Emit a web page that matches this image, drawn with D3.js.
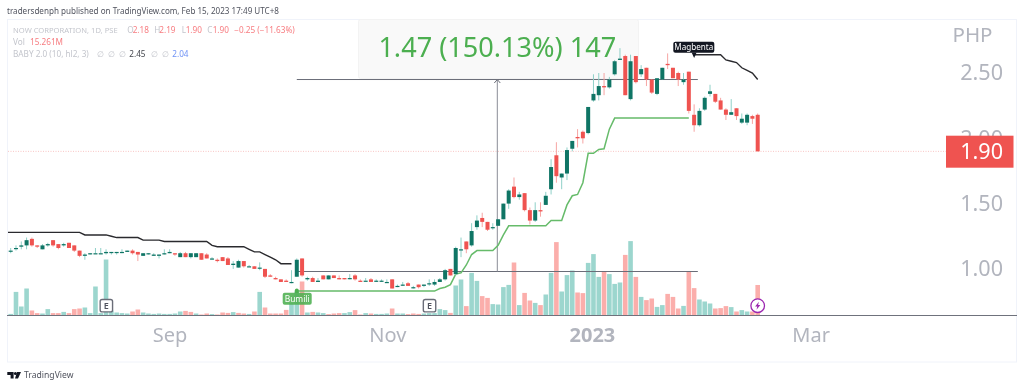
<!DOCTYPE html>
<html>
<head>
<meta charset="utf-8">
<script src="https://cdn.jsdelivr.net/npm/d3@7"></script>
<style>
  html, body { margin: 0; padding: 0; background: #fff; }
  svg { display: block; font-family: "Noto Sans", sans-serif; filter: blur(0.3px); }
</style>
</head>
<body>
<svg width="1024" height="387"></svg>
<script>
// NOW CORPORATION daily candles
const opens = [1.14,1.16,1.17,1.18,1.23,1.18,1.15,1.18,1.22,1.19,1.18,1.20,1.18,1.14,1.10,1.12,1.12,1.12,1.12,1.13,1.13,1.13,1.13,1.14,1.13,1.10,1.12,1.10,1.10,1.12,1.12,1.12,1.09,1.12,1.09,1.09,1.12,1.11,1.08,1.07,1.09,1.08,1.03,1.01,1.06,1.02,1.02,1.01,1.00,0.95,0.93,0.92,0.91,0.90,0.94,1.08,0.92,0.93,0.90,0.95,0.92,0.95,0.93,0.93,0.93,0.95,0.91,0.91,0.92,0.91,0.91,0.90,0.92,0.87,0.88,0.89,0.86,0.88,0.87,0.89,0.88,0.90,0.92,1.00,0.96,1.15,1.21,1.18,1.32,1.39,1.36,1.32,1.33,1.38,1.50,1.63,1.55,1.58,1.45,1.37,1.45,1.49,1.61,1.87,1.70,1.73,1.92,2.01,2.05,2.04,2.29,2.33,2.40,2.39,2.49,2.60,2.63,2.30,2.63,2.49,2.54,2.45,2.34,2.45,2.57,2.54,2.50,2.43,2.51,2.18,2.10,2.22,2.34,2.34,2.29,2.22,2.18,2.23,2.12,2.12,2.17,2.18];
const highs = [1.16,1.18,1.21,1.24,1.24,1.18,1.19,1.20,1.22,1.19,1.20,1.20,1.18,1.14,1.12,1.12,1.16,1.16,1.15,1.13,1.13,1.15,1.14,1.15,1.13,1.12,1.12,1.12,1.11,1.15,1.15,1.12,1.13,1.13,1.12,1.12,1.12,1.12,1.09,1.08,1.09,1.09,1.06,1.07,1.06,1.03,1.02,1.05,1.00,0.96,0.94,0.92,0.92,0.99,1.08,1.08,0.94,0.94,0.93,0.95,0.95,0.95,0.95,0.93,0.96,0.96,0.92,0.93,0.93,0.92,0.92,0.92,0.92,0.88,0.90,0.90,0.87,0.88,0.88,0.92,0.92,0.93,1.00,1.00,1.17,1.24,1.21,1.35,1.41,1.43,1.36,1.35,1.38,1.50,1.61,1.70,1.59,1.58,1.47,1.51,1.51,1.59,1.84,1.97,1.73,1.93,1.98,2.07,2.06,2.24,2.49,2.50,2.50,2.47,2.60,2.69,2.64,2.64,2.63,2.56,2.54,2.45,2.46,2.54,2.65,2.54,2.51,2.50,2.51,2.26,2.23,2.32,2.41,2.34,2.31,2.23,2.30,2.23,2.19,2.19,2.18,2.19];
const lows = [1.12,1.14,1.15,1.15,1.17,1.16,1.15,1.17,1.17,1.15,1.17,1.16,1.13,1.09,1.07,1.11,1.12,1.12,1.11,1.11,1.11,1.12,1.13,1.11,1.06,1.10,1.11,1.10,1.08,1.11,1.12,1.10,1.09,1.09,1.08,1.09,1.07,1.08,1.07,1.05,1.06,1.03,1.00,1.01,1.01,1.02,1.00,0.99,0.93,0.94,0.92,0.90,0.90,0.89,0.94,0.94,0.91,0.90,0.90,0.92,0.92,0.93,0.92,0.92,0.92,0.91,0.90,0.91,0.90,0.90,0.90,0.90,0.85,0.86,0.87,0.87,0.85,0.85,0.86,0.87,0.87,0.90,0.91,0.95,0.95,1.09,1.12,1.17,1.30,1.32,1.29,1.30,1.33,1.38,1.46,1.54,1.53,1.44,1.34,1.36,1.40,1.49,1.57,1.66,1.61,1.68,1.90,1.93,1.96,2.03,2.28,2.29,2.33,2.38,2.48,2.60,2.33,2.29,2.42,2.47,2.40,2.34,2.33,2.45,2.53,2.46,2.40,2.41,2.19,2.05,2.09,2.21,2.32,2.27,2.22,2.14,2.18,2.14,2.11,2.10,2.11,1.90];
const closes = [1.14,1.16,1.18,1.22,1.18,1.17,1.18,1.19,1.18,1.16,1.19,1.16,1.14,1.10,1.11,1.12,1.12,1.12,1.13,1.13,1.13,1.13,1.14,1.12,1.11,1.12,1.12,1.11,1.11,1.12,1.13,1.11,1.12,1.09,1.12,1.12,1.07,1.08,1.08,1.06,1.06,1.03,1.04,1.06,1.02,1.02,1.00,1.01,0.94,0.94,0.92,0.90,0.90,0.90,1.07,0.95,0.93,0.90,0.91,0.92,0.95,0.93,0.92,0.92,0.93,0.92,0.90,0.91,0.90,0.91,0.91,0.90,0.85,0.87,0.88,0.87,0.86,0.86,0.88,0.89,0.90,0.92,0.99,0.95,1.16,1.15,1.15,1.29,1.37,1.36,1.30,1.32,1.38,1.50,1.60,1.55,1.57,1.45,1.37,1.45,1.44,1.56,1.78,1.71,1.73,1.91,1.98,2.00,2.00,2.24,2.34,2.40,2.39,2.45,2.59,2.61,2.33,2.59,2.43,2.53,2.45,2.35,2.46,2.54,2.56,2.46,2.45,2.45,2.21,2.10,2.21,2.31,2.36,2.28,2.22,2.18,2.20,2.17,2.15,2.18,2.15,1.90];

// volume in millions, and the bars drawn in the down colour
const volumes = [0.8,11.8,4.5,13.5,2.5,1.2,1,3.2,1.2,1.2,1.8,1.2,3.2,3.5,4,1.2,14.5,1.2,28,2.5,1.5,1.2,1,2,3,1.5,1,0.8,1,0.8,0.8,1,2,2.3,1.8,1,0.5,1,0.7,0.5,1.5,1.3,1.7,1.3,1,0.8,2,11.8,4,1,1,1,2.8,6,12,17,1.5,1.8,1.5,1.2,0.7,1,1.2,1.2,1.7,2.7,0.5,1.2,1,0.8,0.8,1,3.5,1,1,0.7,1,0.8,1,1.2,1.2,3.2,2.7,1.3,15,18,4.7,21.3,17.3,9.7,8.8,5.7,5.5,14.2,15.3,26.5,5.2,11.3,7.5,6.3,5.2,10.5,21.3,36.7,12,20.2,22.5,11.5,11.2,26.3,30.7,19.3,21.8,20.7,15.8,16.5,30.3,37.2,19.3,9.3,7.7,8.5,4.3,5.2,10.8,9.3,3.5,4.8,21.8,13.7,8,7,6,3.5,3.7,4.7,4.2,2,2.7,2,2,15.26];
const volumeDown = [4,5,8,9,11,12,13,23,24,33,34,36,37,39,40,41,43,44,46,48,49,50,51,52,55,57,60,61,62,65,66,68,72,75,76,77,83,86,89,90,95,97,98,100,103,107,108,112,116,118,120,121,124,125,126,128,129,133,134,135,137,140,141];

// BABY 2.0 bands
const upperA = [1.28,1.28,1.28,1.28,1.28,1.28,1.28,1.28,1.28,1.28,1.28,1.28,1.28,1.28,1.28,1.26,1.26,1.26,1.26,1.26,1.25,1.24,1.24,1.24,1.24,1.24,1.22,1.22,1.22,1.22,1.21,1.21,1.21,1.21,1.21,1.21,1.21,1.21,1.21,1.18,1.17,1.17,1.17,1.17,1.17,1.17,1.15,1.13,1.13,1.11,1.09,1.07,1.04,1.04,1.04];
const upperAStart = -1;
const upperB = [2.64,2.64,2.64,2.64,2.64,2.64,2.60,2.59,2.58,2.54,2.52,2.50,2.45];
const upperBStart = 129;
const lowerBand = [0.83,0.83,0.83,0.83,0.83,0.83,0.83,0.83,0.83,0.83,0.83,0.83,0.83,0.83,0.83,0.83,0.83,0.83,0.83,0.83,0.83,0.83,0.83,0.83,0.83,0.83,0.83,0.85,0.86,0.88,0.96,0.97,1.03,1.11,1.14,1.14,1.14,1.14,1.18,1.26,1.33,1.33,1.33,1.33,1.33,1.33,1.33,1.33,1.37,1.37,1.37,1.49,1.56,1.57,1.66,1.885,1.885,1.915,1.92,2.07,2.155,2.155,2.155,2.155,2.155,2.155,2.155,2.155,2.155,2.155,2.155,2.155,2.155,2.155,2.155];
const lowerStart = 54;

// measure tool
const measureLow = 0.98, measureHigh = 2.45, measureFrom = 54, measureTo = 129.7;
const lastPrice = 1.90;

const priceTicks = [1, 1.5, 2, 2.5];
const timeTicks = [30, 71.1, 109.7, 151];
const timeLabels = ['Sep', 'Nov', '2023', 'Mar'];

const svg = d3.select('svg');

const x = d3.scaleLinear().domain([0, 141]).range([10.7, 757.7]);
const y = d3.scaleLinear().domain([1, 2.5]).range([268.9, 73]);
const v = d3.scaleLinear().domain([0, 40]).range([315.5, 235.5]);

const upCol = '#0f7565', downCol = '#ef5350';
const upWick = '#8fd0c8', downWick = '#f6a5a3';
const textCol = '#b2b5be';

svg.append('clipPath').attr('id', 'plot').append('rect')
  .attr('x', 8).attr('y', 20).attr('width', 1008).attr('height', 342);

// frame and bottom rule
svg.append('rect').attr('x', 7.5).attr('y', 19.5).attr('width', 1009).attr('height', 342.5)
  .attr('fill', 'none').attr('stroke', '#f0f3fa');

// volume
const down = new Set(volumeDown);
svg.append('g').selectAll('rect').data(volumes).enter().append('rect')
  .attr('x', (d, i) => x(i) - 2.3)
  .attr('width', 4.6)
  .attr('y', d => v(d))
  .attr('height', d => v(0) - v(d))
  .attr('fill', (d, i) => down.has(i) ? '#fbaeab' : '#9cd6ce');

svg.append('line').attr('x1', 7).attr('x2', 1017).attr('y1', 315.5).attr('y2', 315.5)
  .attr('stroke', '#6f727c').attr('stroke-width', 1);

// last price line
svg.append('line').attr('x1', 8).attr('x2', 946).attr('y1', y(lastPrice)).attr('y2', y(lastPrice))
  .attr('stroke', '#f9c6c4').attr('stroke-width', 1).attr('stroke-dasharray', '1 1.5');

// measure box
const midX = x((measureFrom + measureTo) / 2);
svg.append('rect').attr('x', 358.5).attr('y', 19.5).attr('width', 280).attr('height', 59)
  .attr('rx', 2).attr('fill', '#f9f9f9').attr('stroke', '#f3f3f3');
svg.append('text').attr('x', midX).attr('y', 48).attr('dy', '.35em')
  .attr('text-anchor', 'middle').attr('font-size', 27.1).attr('fill', '#4caf50')
  .text('1.47 (150.13%) 147');

svg.selectAll('.mlev').data([measureLow, measureHigh]).enter().append('line')
  .attr('class', 'mlev')
  .attr('x1', x(measureFrom)).attr('x2', x(measureTo))
  .attr('y1', d => y(d))
  .attr('y2', d => y(d))
  .attr('stroke', '#6a6d78').attr('stroke-width', 1);
const arrowTop = y(measureHigh), arrowBottom = y(measureLow);
svg.append('line').attr('x1', midX).attr('x2', midX).attr('y1', arrowTop).attr('y2', arrowBottom)
  .attr('stroke', '#8a8d96').attr('stroke-width', 1);
svg.append('path')
  .attr('d', `M${midX - 3},${arrowTop + 3.5}L${midX},${arrowTop}L${midX + 3},${arrowTop + 3.5}`)
  .attr('fill', 'none').attr('stroke', '#6a6d78').attr('stroke-width', 1);

// bands
const bandLine = start => d3.line().x((d, i) => x(i + start)).y(d => y(d));
svg.append('path').attr('d', bandLine(upperAStart)(upperA)).attr('fill', 'none').attr('stroke', '#2a2a2e')
  .attr('stroke-width', 1.4).attr('clip-path', 'url(#plot)');
svg.append('path').attr('d', bandLine(upperBStart)(upperB)).attr('fill', 'none').attr('stroke', '#2a2a2e').attr('stroke-width', 1.4);
svg.append('path').attr('d', bandLine(lowerStart)(lowerBand)).attr('fill', 'none').attr('stroke', '#66bb6a').attr('stroke-width', 1.5);

// candles
const candle = svg.append('g').selectAll('g').data(closes).enter().append('g');
candle.append('line')
  .attr('x1', (d, i) => x(i)).attr('x2', (d, i) => x(i))
  .attr('y1', (d, i) => y(highs[i])).attr('y2', (d, i) => y(lows[i]))
  .attr('stroke', (d, i) => d >= opens[i] ? upWick : downWick).attr('stroke-width', 1);
candle.append('rect')
  .attr('x', (d, i) => x(i) - 2)
  .attr('width', 4)
  .attr('y', (d, i) => y(Math.max(d, opens[i])))
  .attr('height', (d, i) => Math.max(1.2, Math.abs(y(d) - y(opens[i]))))
  .attr('fill', (d, i) => d >= opens[i] ? upCol : downCol);

// markers
function earnings(ix) {
  const g = svg.append('g').attr('transform', `translate(${x(ix) + 0.3},305.7)`);
  g.append('rect').attr('x', -6.2).attr('y', -6.2).attr('width', 12.4).attr('height', 12.4).attr('rx', 2)
    .attr('fill', '#fff').attr('stroke', '#6a6d78').attr('stroke-width', 1.4);
  g.append('text').attr('text-anchor', 'middle').attr('dy', '.36em').attr('font-size', 9)
    .attr('font-weight', 600).attr('fill', '#50535e').text('E');
}
earnings(18);
earnings(79);

// buy label
const buyX = x(54);
svg.append('path').attr('d', `M${buyX - 2},293 V290.5 a2,2 0 0 1 4,0 V293 Z`).attr('fill', '#4caf50');
svg.append('rect').attr('x', 282.7).attr('y', 292.7).attr('width', 29).attr('height', 12).attr('rx', 2)
  .attr('fill', '#4caf50').attr('opacity', 0.88);
svg.append('text').attr('x', 297.2).attr('y', 298.9).attr('dy', '.35em').attr('text-anchor', 'middle')
  .attr('font-size', 8.4).attr('fill', '#fff').text('Bumili');

// sell label
const sellX = x(129);
svg.append('rect').attr('x', 673.3).attr('y', 41.7).attr('width', 41).attr('height', 11).attr('rx', 2).attr('fill', '#131722');
svg.append('path').attr('d', `M${sellX - 2.5},52.5 L${sellX},58 L${sellX + 2.5},52.5 Z`).attr('fill', '#131722');
svg.append('text').attr('x', 693.8).attr('y', 47.2).attr('dy', '.35em').attr('text-anchor', 'middle')
  .attr('font-size', 8.1).attr('fill', '#fff').text('Magbenta');

// flash marker on the last bar
const flash = svg.append('g').attr('transform', `translate(${x(141)},305.7)`);
flash.append('circle').attr('r', 6.8).attr('fill', '#fff').attr('stroke', '#9c27b0').attr('stroke-width', 1.3);
flash.append('path').attr('d', 'M1.2,-4 L-2.6,0.7 H-0.4 L-1.2,4 L2.6,-0.7 H0.4 Z').attr('fill', '#9c27b0');

// axes
const yAxis = svg.append('g').attr('transform', 'translate(1003,0)')
  .call(d3.axisRight(y).tickValues(priceTicks).tickFormat(d3.format('.2f')).tickSize(0).tickPadding(0));
yAxis.select('.domain').remove();
yAxis.selectAll('text').attr('text-anchor', 'end').attr('font-size', 21.6).attr('fill', textCol)
  .attr('font-family', '"Noto Sans", sans-serif');

svg.append('text').attr('x', 972.5).attr('y', 35).attr('dy', '.35em').attr('text-anchor', 'middle')
  .attr('font-size', 20.5).attr('fill', textCol).text('PHP');

const xAxis = svg.append('g').attr('transform', 'translate(0,316)')
  .call(d3.axisBottom(x).tickValues(timeTicks).tickFormat((d, i) => timeLabels[i]).tickSize(0).tickPadding(0));
xAxis.select('.domain').remove();
xAxis.selectAll('text').attr('y', 19).attr('dy', '.35em').attr('font-size', 20).attr('fill', textCol)
  .attr('font-family', '"Noto Sans", sans-serif')
  .attr('font-weight', (d, i) => timeLabels[i] === '2023' ? 700 : 400);

// last price tag
svg.append('rect').attr('x', 946).attr('y', 135.7).attr('width', 67.5).attr('height', 32).attr('fill', downCol);
svg.append('text').attr('x', 1003).attr('y', y(lastPrice)).attr('dy', '.35em').attr('text-anchor', 'end')
  .attr('font-size', 21.6).attr('fill', '#fff').text(d3.format('.2f')(lastPrice));

// header
svg.append('text').attr('x', 7).attr('y', 14.3).attr('font-size', 8.4).attr('fill', '#50535e')
  .attr('textLength', 272).attr('lengthAdjust', 'spacingAndGlyphs')
  .text('tradersdenph published on TradingView.com, Feb 15, 2023 17:49 UTC+8');

// legend rows: [text, colour, left, optional size]
function legendRow(yPos, parts) {
  const t = svg.append('text').attr('y', yPos).attr('font-size', 8.2);
  parts.forEach(p => t.append('tspan').attr('x', p[2]).attr('fill', p[1]).attr('font-size', p[3] || 8.2).text(p[0]));
}
const red = '#f77c80', grey = '#c3c5cc';
legendRow(33.3, [['NOW CORPORATION, 1D, PSE', grey, 13, 7.6], ['O', grey, 127.3], ['2.18', red, 132.7],
  ['H', grey, 154.3], ['2.19', red, 159.3], ['L', grey, 181.7], ['1.90', red, 185.7],
  ['C', grey, 207.3], ['1.90', red, 212.7], ['−0.25 (−11.63%)', red, 234.3]]);
legendRow(45.3, [['Vol', grey, 13], ['15.261M', red, 30]]);
legendRow(57.3, [['BABY 2.0 (10, hl2, 3)', grey, 13], ['∅', grey, 97], ['∅', grey, 108], ['∅', grey, 118.5],
  ['2.45', '#44464d', 129.3], ['∅', grey, 151], ['∅', grey, 161.5], ['2.04', '#6f92f5', 172.3]]);

// footer
svg.append('path').attr('d', 'M7.3,372 H13.6 V378.4 H10.6 V375 H7.3 Z M17,372 H21 L18,378.4 H15 Z').attr('fill', '#131722');
svg.append('circle').attr('cx', 15.4).attr('cy', 373.6).attr('r', 1.5).attr('fill', '#131722');
svg.append('text').attr('x', 24).attr('y', 378.3).attr('font-size', 8.6).attr('fill', '#50535e').text('TradingView');
</script>
</body>
</html>
